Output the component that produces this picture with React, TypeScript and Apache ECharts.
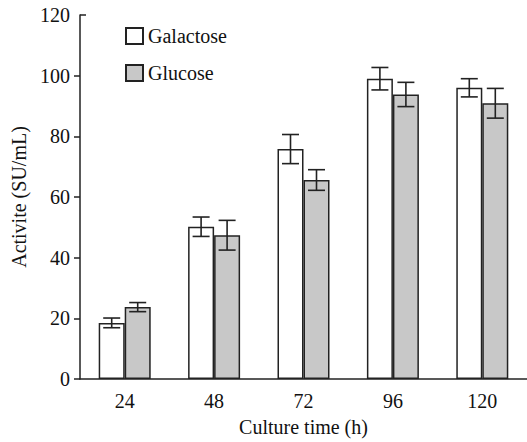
import React, { useEffect, useRef } from "react";
import * as echarts from "echarts";

const categories = ["24", "48", "72", "96", "120"];
const galactose = [18.5, 50.2, 75.8, 99.0, 96.0];
const galactoseErr = [1.6, 3.2, 4.8, 3.7, 3.0];
const glucose = [23.7, 47.4, 65.6, 93.8, 90.9];
const glucoseErr = [1.5, 4.9, 3.4, 4.0, 4.9];
const yTicks = { min: 0, max: 120, interval: 20 };
const outwardTickValues = [0, 20, 40, 60, 80, 100];

const FONT = "Liberation Serif";
const BAR_W = 26;

export default function App() {
  const ref = useRef<HTMLDivElement>(null);
  useEffect(() => {
    if (!ref.current) return;
    const chart = echarts.init(ref.current, null, { renderer: "svg" });

    const errData: any[] = [];
    galactose.forEach((v, i) => errData.push([i, v - galactoseErr[i], v + galactoseErr[i], -1]));
    glucose.forEach((v, i) => errData.push([i, v - glucoseErr[i], v + glucoseErr[i], 1]));

    const txt = { fontFamily: FONT, fontSize: 20, color: "#111" };

    const option: any = {
      animation: false,
      backgroundColor: "#ffffff",
      textStyle: { fontFamily: FONT },
      grid: { left: 80, right: -5.5, top: 15, bottom: 59, containLabel: false },
      legend: {
        orient: "vertical",
        left: 120,
        top: 21,
        itemWidth: 17,
        itemHeight: 16,
        itemGap: 17,
        icon: "rect",
        textStyle: { ...txt },
        data: ["Galactose", "Glucose"],
      },
      xAxis: {
        type: "category",
        data: categories,
        name: "Culture time (h)",
        nameLocation: "middle",
        nameGap: 38,
        nameTextStyle: { ...txt },
        axisLine: { lineStyle: { color: "#222", width: 1.5 } },
        axisTick: { show: false },
        axisLabel: { ...txt, margin: 12 },
      },
      yAxis: {
        type: "value",
        min: yTicks.min,
        max: yTicks.max,
        interval: yTicks.interval,
        name: "Activite (SU/mL)",
        nameLocation: "middle",
        nameGap: 50,
        nameTextStyle: { ...txt },
        splitLine: { show: false },
        axisLine: { show: true, lineStyle: { color: "#222", width: 1.5 } },
        axisTick: {
          show: true,
          inside: false,
          length: 6,
          customValues: outwardTickValues,
          lineStyle: { color: "#222", width: 1.5 },
        },
        axisLabel: { ...txt, margin: 10 },
      },
      series: [
        {
          name: "Galactose",
          type: "bar",
          data: galactose,
          barWidth: BAR_W,
          barGap: "0%",
          itemStyle: { color: "#ffffff", borderColor: "#222", borderWidth: 1.5 },
        },
        {
          name: "Glucose",
          type: "bar",
          data: glucose,
          barWidth: BAR_W,
          barGap: "0%",
          itemStyle: { color: "#c8c8c8", borderColor: "#222", borderWidth: 1.5 },
        },
        {
          type: "custom",
          name: "err",
          data: errData,
          z: 10,
          renderItem: (params: any, api: any) => {
            const idx = api.value(0);
            const lo = api.coord([idx, api.value(1)]);
            const hi = api.coord([idx, api.value(2)]);
            const off = (api.value(3) * BAR_W) / 2;
            const x = lo[0] + off;
            const cap = 8.5;
            const st = { stroke: "#222", lineWidth: 1.6 };
            return {
              type: "group",
              children: [
                { type: "line", shape: { x1: x, y1: lo[1], x2: x, y2: hi[1] }, style: st },
                { type: "line", shape: { x1: x - cap, y1: lo[1], x2: x + cap, y2: lo[1] }, style: st },
                { type: "line", shape: { x1: x - cap, y1: hi[1], x2: x + cap, y2: hi[1] }, style: st },
              ],
            };
          },
        },
      ],
    };
    chart.setOption(option);
    const yTop = chart.convertToPixel({ yAxisIndex: 0 }, yTicks.max) as number;
    chart.setOption({
      graphic: [
        {
          type: "line",
          shape: { x1: 80, y1: yTop, x2: 86, y2: yTop },
          style: { stroke: "#222", lineWidth: 1.5 },
        },
      ],
    });
    return () => chart.dispose();
  }, []);
  return <div ref={ref} style={{ width: 527, height: 442, position: "absolute", left: 0, top: 0 }} />;
}
